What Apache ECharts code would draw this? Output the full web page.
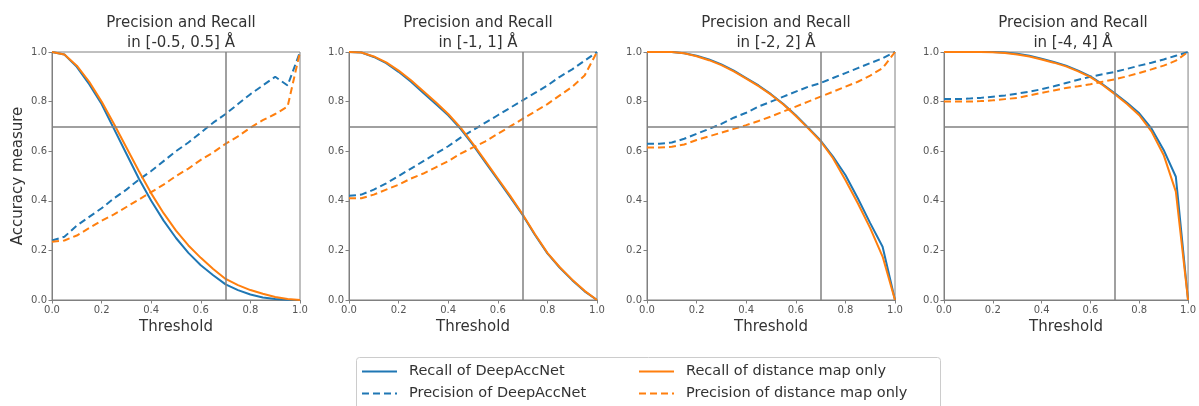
<!DOCTYPE html>
<html>
<head>
<meta charset="utf-8">
<script src="https://cdn.jsdelivr.net/npm/echarts@6/dist/echarts.min.js"></script>
<style>
  html, body { margin: 0; padding: 0; background: #fff; }
  #chart { width: 1199px; height: 406px; }
</style>
</head>
<body>
<div id="chart"></div>
<script>
// thresholds on the x axis
const thresholds = [0, 0.05, 0.1, 0.15, 0.2, 0.25, 0.3, 0.35, 0.4, 0.45, 0.5,
  0.55, 0.6, 0.65, 0.7, 0.75, 0.8, 0.85, 0.9, 0.95, 1.0];
const tickValues = [0, 0.2, 0.4, 0.6, 0.8, 1.0];

const panelTitles = [
  'Precision and Recall\nin [-0.5, 0.5] Å',
  'Precision and Recall\nin [-1, 1] Å',
  'Precision and Recall\nin [-2, 2] Å',
  'Precision and Recall\nin [-4, 4] Å'
];

// [-0.5, 0.5]
const recallDAN1 = [1.0, 0.99, 0.94, 0.87, 0.79, 0.69, 0.59, 0.49, 0.40, 0.32, 0.25, 0.19, 0.14, 0.10, 0.063, 0.04, 0.022, 0.01, 0.004, 0.001, 0];
const precDAN1 = [0.24, 0.255, 0.30, 0.335, 0.37, 0.41, 0.445, 0.485, 0.52, 0.56, 0.60, 0.635, 0.675, 0.715, 0.75, 0.79, 0.83, 0.865, 0.90, 0.865, 1.0];
const recallDist1 = [1.0, 0.99, 0.945, 0.88, 0.80, 0.71, 0.615, 0.52, 0.43, 0.35, 0.28, 0.22, 0.17, 0.125, 0.085, 0.06, 0.04, 0.025, 0.012, 0.004, 0];
const precDist1 = [0.235, 0.24, 0.26, 0.29, 0.32, 0.345, 0.375, 0.405, 0.435, 0.465, 0.50, 0.53, 0.565, 0.595, 0.63, 0.66, 0.695, 0.725, 0.75, 0.78, 1.0];

// [-1, 1]
const recallDAN2 = [1.0, 0.998, 0.98, 0.955, 0.92, 0.88, 0.835, 0.79, 0.745, 0.69, 0.625, 0.555, 0.485, 0.415, 0.343, 0.262, 0.188, 0.13, 0.08, 0.035, 0];
const precDAN2 = [0.42, 0.425, 0.445, 0.47, 0.50, 0.53, 0.56, 0.59, 0.62, 0.655, 0.685, 0.715, 0.745, 0.775, 0.805, 0.835, 0.865, 0.90, 0.93, 0.965, 1.0];
const recallDist2 = [1.0, 0.998, 0.982, 0.958, 0.925, 0.886, 0.842, 0.797, 0.75, 0.695, 0.63, 0.56, 0.49, 0.42, 0.346, 0.265, 0.19, 0.132, 0.082, 0.037, 0];
const precDist2 = [0.41, 0.41, 0.425, 0.445, 0.465, 0.49, 0.51, 0.535, 0.56, 0.59, 0.615, 0.64, 0.67, 0.70, 0.73, 0.76, 0.79, 0.825, 0.86, 0.905, 1.0];

// [-2, 2]
const recallDAN3 = [1.0, 1.0, 1.0, 0.995, 0.985, 0.97, 0.95, 0.925, 0.895, 0.865, 0.83, 0.79, 0.745, 0.695, 0.643, 0.578, 0.504, 0.41, 0.31, 0.215, 0];
const precDAN3 = [0.63, 0.63, 0.635, 0.65, 0.67, 0.69, 0.71, 0.735, 0.755, 0.78, 0.80, 0.82, 0.84, 0.86, 0.875, 0.895, 0.915, 0.935, 0.955, 0.975, 1.0];
const recallDist3 = [1.0, 1.0, 1.0, 0.995, 0.983, 0.967, 0.947, 0.922, 0.893, 0.862, 0.828, 0.788, 0.742, 0.692, 0.64, 0.572, 0.484, 0.39, 0.29, 0.175, 0];
const precDist3 = [0.615, 0.615, 0.618, 0.627, 0.645, 0.66, 0.675, 0.69, 0.705, 0.722, 0.74, 0.76, 0.78, 0.80, 0.82, 0.84, 0.86, 0.88, 0.905, 0.935, 1.0];

// [-4, 4]
const recallDAN4 = [1.0, 1.0, 1.0, 1.0, 1.0, 0.998, 0.993, 0.985, 0.973, 0.96, 0.945, 0.925, 0.902, 0.87, 0.833, 0.795, 0.753, 0.692, 0.605, 0.497, 0];
const precDAN4 = [0.81, 0.81, 0.812, 0.815, 0.82, 0.825, 0.832, 0.84, 0.85, 0.862, 0.875, 0.888, 0.90, 0.91, 0.92, 0.932, 0.945, 0.957, 0.97, 0.985, 1.0];
const recallDist4 = [1.0, 1.0, 1.0, 1.0, 0.999, 0.996, 0.99, 0.982, 0.97, 0.957, 0.942, 0.922, 0.899, 0.867, 0.83, 0.79, 0.745, 0.68, 0.585, 0.437, 0];
const precDist4 = [0.80, 0.80, 0.80, 0.802, 0.805, 0.81, 0.815, 0.825, 0.835, 0.845, 0.855, 0.862, 0.87, 0.88, 0.89, 0.902, 0.915, 0.93, 0.945, 0.965, 1.0];

const panels = [
  [recallDAN1, precDAN1, recallDist1, precDist1],
  [recallDAN2, precDAN2, recallDist2, precDist2],
  [recallDAN3, precDAN3, recallDist3, precDist3],
  [recallDAN4, precDAN4, recallDist4, precDist4]
];
const seriesNames = ['Recall of DeepAccNet', 'Precision of DeepAccNet',
  'Recall of distance map only', 'Precision of distance map only'];
const seriesColors = ['#1f77b4', '#1f77b4', '#ff7f0e', '#ff7f0e'];
const seriesDashed = [false, true, false, true];

const FONT = 'DejaVu Sans';
const GRAY = '#808080';
const gridLefts = [52, 349, 647, 944];
const SIZE = 248;

const chart = echarts.init(document.getElementById('chart'), null, { renderer: 'canvas' });

const grids = [], xAxes = [], yAxes = [], titles = [], series = [];
panels.forEach((panel, p) => {
  grids.push({
    left: gridLefts[p], top: 52, width: SIZE, height: SIZE,
    show: true, borderColor: GRAY, borderWidth: 1, backgroundColor: 'transparent'
  });
  titles.push({
    text: panelTitles[p],
    left: gridLefts[p] + SIZE / 2, top: 8, textAlign: 'center',
    textStyle: { fontFamily: FONT, fontSize: 15, fontWeight: 'normal', color: '#333', lineHeight: 20 }
  });
  const axisCommon = {
    type: 'value', min: 0, max: 1, interval: 0.2, gridIndex: p,
    axisLine: { show: true, lineStyle: { color: GRAY, width: 1 } },
    axisTick: { show: true, length: 3.5, lineStyle: { color: GRAY } },
    splitLine: { show: false },
    axisLabel: {
      fontFamily: FONT, fontSize: 10, color: '#555', margin: 5,
      formatter: v => v.toFixed(1)
    }
  };
  xAxes.push(Object.assign({}, axisCommon, {
    name: 'Threshold', nameLocation: 'middle', nameGap: 20,
    nameTextStyle: { fontFamily: FONT, fontSize: 15, color: '#333' }
  }));
  yAxes.push(Object.assign({}, axisCommon, p === 0 ? {
    name: 'Accuracy measure', nameLocation: 'middle', nameGap: 26,
    nameTextStyle: { fontFamily: FONT, fontSize: 15, color: '#333' }
  } : {}));

  panel.forEach((vals, s) => {
    const item = {
      type: 'line', name: seriesNames[s],
      xAxisIndex: p, yAxisIndex: p,
      data: thresholds.map((t, i) => [t, vals[i]]),
      showSymbol: false, symbol: 'none', silent: true, animation: false,
      itemStyle: { color: seriesColors[s] },
      lineStyle: { color: seriesColors[s], width: 2, type: seriesDashed[s] ? [7, 4] : 'solid' },
      z: 3
    };
    if (s === 0) {
      item.markLine = {
        silent: true, symbol: 'none', animation: false,
        label: { show: false },
        lineStyle: { color: GRAY, width: 1.5, type: 'solid' },
        data: [{ xAxis: 0.7 }, { yAxis: 0.7 }]
      };
    }
    series.push(item);
  });
});

// one legend per entry so the 2x2 layout is exact
const legendPos = [[361, 364], [361, 386], [638, 364], [638, 386]];
const legends = seriesNames.map((name, i) => ({
  left: legendPos[i][0], top: legendPos[i][1], padding: 0,
  itemWidth: 35, itemHeight: 14, selectedMode: false,
  data: [name],
  itemStyle: { opacity: 0 },
  textStyle: { fontFamily: FONT, fontSize: 14.5, color: '#333', padding: [0, 0, 0, 7] }
}));

chart.setOption({
  animation: false,
  title: titles,
  grid: grids,
  xAxis: xAxes,
  yAxis: yAxes,
  graphic: [{
    type: 'rect', left: 356, top: 357, z: 0,
    shape: { width: 584, height: 60, r: 3 },
    style: { fill: '#fff', stroke: '#cccccc', lineWidth: 1 }
  }],
  legend: legends,
  series: series
});
</script>
</body>
</html>
